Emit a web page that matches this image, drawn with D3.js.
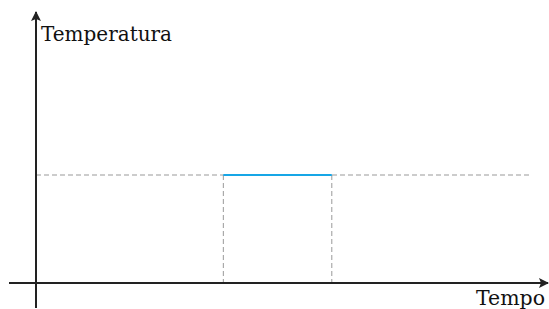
<!DOCTYPE html>
<html>
<head>
<meta charset="utf-8">
<script src="https://cdn.jsdelivr.net/npm/d3@7"></script>
<style>
  body { margin: 0; background: #fff; }
  text { font-family: 'DejaVu Serif', 'Liberation Serif', serif; }
</style>
</head>
<body>
<div id="chart"></div>
<script>
const width = 549;
const height = 309;

// data
const axisLabels = ['Tempo', 'Temperatura'];
const pulseTimes = [3.8, 6.0];
const pulseTemp = [4];
const xDomain = [0, 10];
const yDomain = [0, 10];

const x = d3.scaleLinear().domain(xDomain).range([36, 529]);
const y = d3.scaleLinear().domain(yDomain).range([283, 13]);

const svg = d3.select('#chart')
    .append('svg')
        .attr('width', width)
        .attr('height', height);

const defs = svg.append('defs');
defs.append('marker')
    .attr('id', 'arrow')
    .attr('viewBox', '0 0 10 10')
    .attr('refX', 9)
    .attr('refY', 5)
    .attr('markerWidth', 5)
    .attr('markerHeight', 5)
    .attr('markerUnits', 'strokeWidth')
    .attr('orient', 'auto')
  .append('path')
    .attr('d', 'M0,0 L10,5 L0,10 L2,5 Z')
    .attr('fill', '#222');

// dashed guides
svg.append('line')
    .attr('x1', x(0)).attr('x2', x(10))
    .attr('y1', y(pulseTemp[0])).attr('y2', y(pulseTemp[0]))
    .attr('stroke', '#999')
    .attr('stroke-width', 1)
    .attr('stroke-dasharray', '5,3');

svg.selectAll('.drop')
    .data(pulseTimes)
    .enter()
    .append('line')
        .attr('class', 'drop')
        .attr('x1', d => x(d)).attr('x2', d => x(d))
        .attr('y1', y(pulseTemp[0])).attr('y2', y(0))
        .attr('stroke', '#999')
        .attr('stroke-width', 1)
        .attr('stroke-dasharray', '5,3');

// pulse
svg.append('line')
    .attr('x1', x(pulseTimes[0])).attr('x2', x(pulseTimes[1]))
    .attr('y1', y(pulseTemp[0])).attr('y2', y(pulseTemp[0]))
    .attr('stroke', '#17a6e6')
    .attr('stroke-width', 2);

// axes
svg.append('line')
    .attr('x1', 9).attr('x2', width - 1)
    .attr('y1', y(0)).attr('y2', y(0))
    .attr('stroke', '#222')
    .attr('stroke-width', 2)
    .attr('marker-end', 'url(#arrow)');

svg.append('line')
    .attr('x1', x(0)).attr('x2', x(0))
    .attr('y1', 308).attr('y2', y(10) - 1)
    .attr('stroke', '#222')
    .attr('stroke-width', 2)
    .attr('marker-end', 'url(#arrow)');

svg.append('text')
    .attr('x', 476)
    .attr('y', 305)
    .attr('font-size', 20)
    .attr('fill', '#111')
    .attr('textLength', 69)
    .attr('lengthAdjust', 'spacingAndGlyphs')
    .text(axisLabels[0]);

svg.append('text')
    .attr('x', 41)
    .attr('y', 41)
    .attr('font-size', 20)
    .attr('fill', '#111')
    .attr('textLength', 131)
    .attr('lengthAdjust', 'spacingAndGlyphs')
    .text(axisLabels[1]);
</script>
</body>
</html>
